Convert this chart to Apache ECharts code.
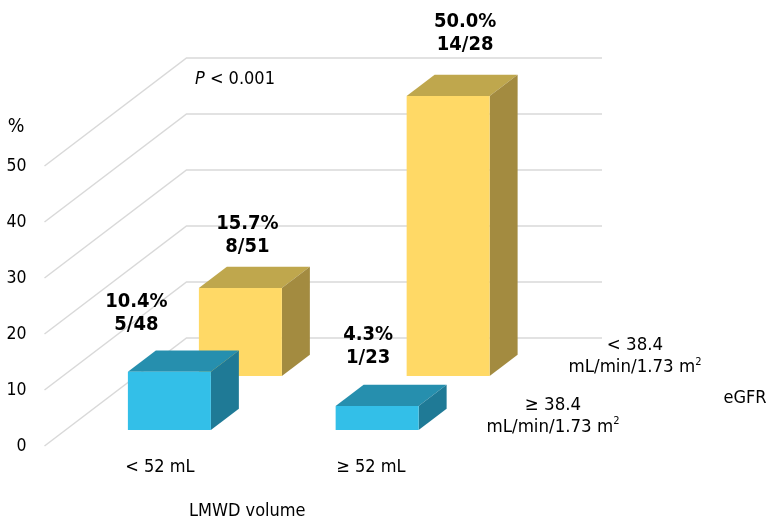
<!DOCTYPE html>
<html>
<head>
<meta charset="utf-8">
<style>html,body{margin:0;padding:0;background:#fff}#c{width:767px;height:523px}</style>
<script src="https://cdn.jsdelivr.net/npm/echarts@6/dist/echarts.min.js"></script>
</head>
<body>
<div id="c"></div>
<script>
// Data
var categories = ['< 52 mL', '≥ 52 mL'];
var yTicks = [0, 10, 20, 30, 40, 50];
var lowEgfrPct = [15.7, 50.0];
var lowEgfrCounts = ['8/51', '14/28'];
var highEgfrPct = [10.4, 4.3];
var highEgfrCounts = ['5/48', '1/23'];

// Pseudo-3D style
var FONT = '"DejaVu Sans Condensed","DejaVu Sans",sans-serif';
var DEPTH = [142, -108];
var HALF_W = 41.5;
var ROW_THICK = 0.197;
var BACK_ROW = 0.648, FRONT_ROW = 0.148;
var YELLOW = {face: '#FFD966', top: '#BFA74D', side: '#A38B40'};
var BLUE = {face: '#33BFE8', top: '#268FAE', side: '#1F7A96'};
var backLabelOffset = [[7, -53], [17, -63]];
var frontLabelOffset = [[-33, -58], [-9, -60]];

function barRenderer(row, colors, pct, counts, offsets) {
  return function (params, api) {
    var i = api.value(0), v = api.value(1);
    var top0 = api.coord([i, v]), base0 = api.coord([i, 0]);
    var ox = row * DEPTH[0], oy = row * DEPTH[1];
    var dx = ROW_THICK * DEPTH[0], dy = ROW_THICK * DEPTH[1];
    var l = base0[0] + ox - HALF_W, r = base0[0] + ox + HALF_W;
    var b = base0[1] + oy, t = top0[1] + oy;
    return {
      type: 'group',
      children: [
        {type: 'polygon', shape: {points: [[l, t], [r, t], [r + dx, t + dy], [l + dx, t + dy]]}, style: {fill: colors.top}},
        {type: 'polygon', shape: {points: [[r, t], [r + dx, t + dy], [r + dx, b + dy], [r, b]]}, style: {fill: colors.side}},
        {type: 'rect', shape: {x: l, y: t, width: r - l, height: b - t}, style: {fill: colors.face}},
        {type: 'text', z2: 50, style: {
          text: pct[params.dataIndex].toFixed(1) + '%\n' + counts[params.dataIndex],
          x: (l + r) / 2 + offsets[params.dataIndex][0],
          y: t + offsets[params.dataIndex][1],
          textAlign: 'center', textVerticalAlign: 'middle',
          fontFamily: FONT, fontWeight: 'bold', fontSize: 20, lineHeight: 23, fill: '#000'
        }}
      ]
    };
  };
}

function gridRenderer(params, api) {
  var p = api.coord([0, api.value(1)]);
  var cs = params.coordSys;
  var x0 = cs.x, y0 = p[1];
  return {
    type: 'polyline',
    shape: {points: [[x0, y0], [x0 + DEPTH[0], y0 + DEPTH[1]], [x0 + DEPTH[0] + cs.width, y0 + DEPTH[1]]]},
    style: {stroke: '#D9D9D9', lineWidth: 1.5, fill: null}
  };
}

function pairs(arr) { return arr.map(function (v, i) { return [i, v]; }); }

var chart = echarts.init(document.getElementById('c'));
chart.setOption({
  animation: false,
  backgroundColor: '#fff',
  textStyle: {fontFamily: FONT},
  grid: {left: 44.5, top: 166, width: 415.5, height: 280, containLabel: false, outerBoundsMode: 'none'},
  xAxis: {
    type: 'category', data: categories,
    axisLine: {show: false}, axisTick: {show: false}, splitLine: {show: false},
    axisLabel: {
      margin: 12, fontSize: 18, color: '#000', interval: 0,
      formatter: function (v, i) { return '{c' + i + '|' + v + '}'; },
      rich: {
        c0: {fontSize: 18, fontFamily: FONT, color: '#000', padding: [0, 0, 0, 23]},
        c1: {fontSize: 18, fontFamily: FONT, color: '#000', padding: [0, 0, 0, 29.6]}
      }
    },
    name: 'LMWD volume', nameLocation: 'middle', nameGap: 56,
    nameTextStyle: {fontSize: 18, color: '#000', padding: [0, 10, 0, 0], fontFamily: FONT}
  },
  yAxis: {
    type: 'value', min: 0, max: 50, interval: 10,
    axisLine: {show: false}, axisTick: {show: false}, splitLine: {show: false},
    axisLabel: {margin: 18, fontSize: 17.5, color: '#000', fontFamily: FONT, padding: [5, 0, 0, 0]},
    name: '%', nameLocation: 'end', nameGap: 29,
    nameTextStyle: {fontSize: 19.5, color: '#000', align: 'center', padding: [0, 57, 0, 0], fontFamily: FONT}
  },
  series: [
    {type: 'custom', name: 'grid', renderItem: gridRenderer, data: pairs(yTicks).map(function (d) { return [0, d[1]]; }), clip: false, silent: true, z: 1},
    {type: 'custom', name: '< 38.4 mL/min/1.73 m2', renderItem: barRenderer(BACK_ROW, YELLOW, lowEgfrPct, lowEgfrCounts, backLabelOffset), data: pairs(lowEgfrPct), clip: false, silent: true, z: 2},
    {type: 'custom', name: '≥ 38.4 mL/min/1.73 m2', renderItem: barRenderer(FRONT_ROW, BLUE, highEgfrPct, highEgfrCounts, frontLabelOffset), data: pairs(highEgfrPct), clip: false, silent: true, z: 3}
  ],
  graphic: [
    {type: 'text', left: 195, top: 70, style: {
      text: '{i|P}{n| < 0.001}', fontFamily: FONT, fontSize: 18, fill: '#000',
      rich: {i: {fontStyle: 'italic', fontFamily: FONT, fontSize: 18, fill: '#000'}, n: {fontFamily: FONT, fontSize: 18, fill: '#000'}}
    }},
    {type: 'text', z: 10, x: 635, y: 356.5, style: {
      text: '< 38.4\n{n|mL/min/1.73 m}{s|2}', x: 0, y: 0, textAlign: 'center', textVerticalAlign: 'middle',
      fontFamily: FONT, fontSize: 18.5, lineHeight: 22, fill: '#000',
      rich: {n: {fontFamily: FONT, fontSize: 18.5, lineHeight: 22, fill: '#000'}, s: {fontFamily: FONT, fontSize: 11, lineHeight: 22, verticalAlign: 'top', fill: '#000'}}
    }},
    {type: 'text', z: 10, x: 553, y: 416, style: {
      text: '≥ 38.4\n{n|mL/min/1.73 m}{s|2}', x: 0, y: 0, textAlign: 'center', textVerticalAlign: 'middle',
      fontFamily: FONT, fontSize: 18.5, lineHeight: 22, fill: '#000',
      rich: {n: {fontFamily: FONT, fontSize: 18.5, lineHeight: 22, fill: '#000'}, s: {fontFamily: FONT, fontSize: 11, lineHeight: 22, verticalAlign: 'top', fill: '#000'}}
    }},
    {type: 'text', z: 10, x: 745, y: 398, style: {
      text: 'eGFR', x: 0, y: 0, textAlign: 'center', textVerticalAlign: 'middle', fontFamily: FONT, fontSize: 18, fill: '#000'
    }}
  ]
});
</script>
</body>
</html>
